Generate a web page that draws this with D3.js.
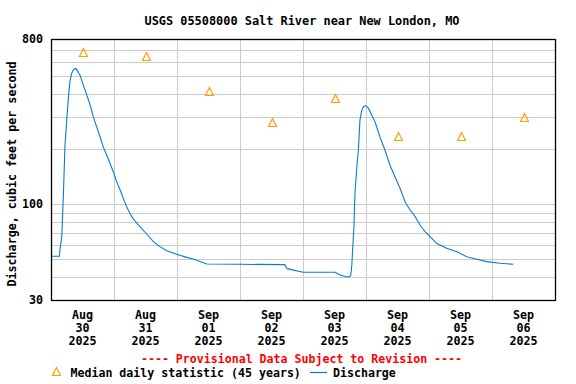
<!DOCTYPE html>
<html><head><meta charset="utf-8">
<script src="https://cdn.jsdelivr.net/npm/d3@7"></script>
<style>
html,body{margin:0;padding:0;background:#fff;}
text{font-family:"DejaVu Sans Mono",monospace;font-weight:bold;}
</style></head>
<body><svg id="c" width="576" height="384"></svg>
<script>
const title = "USGS 05508000 Salt River near New London, MO";
const yLabel = "Discharge, cubic feet per second";
const startDate = Date.UTC(2025, 7, 30);
// discharge: hours since Aug 30 00:00, cfs
const dischargeHours = [0, 3.2, 3.4, 4.1, 4.7, 5.3, 6.0, 6.6, 7.2, 7.9, 8.5, 9.5, 11.0, 12.3, 13.6, 14.9, 16.1, 17.4, 18.7, 19.9, 21.2, 22.5, 23.7, 25.0, 26.3, 27.5, 28.8, 30.1, 31.4, 33.9, 36.5, 39.0, 41.5, 44.1, 47.9, 51.7, 54.1, 59.4, 72, 89.1, 89.9, 96, 108.2, 110.1, 112.5, 113.8, 114.2, 114.6, 114.9, 115.4, 115.8, 116.5, 117.1, 117.7, 118.4, 119.0, 119.9, 120.9, 122.2, 123.4, 125.3, 127.2, 129.1, 131.0, 133.0, 134.9, 136.8, 138.7, 140.6, 142.5, 144.4, 146.9, 150.7, 154.6, 158.4, 162.2, 166.0, 171.0, 176.1];
const dischargeValues = [52, 52, 56.3, 66.5, 110, 206, 289, 379, 468, 520, 542, 553, 509, 448, 396, 349, 301, 265, 234, 206, 186, 167, 151, 133, 120, 108, 97, 89, 83, 75.4, 68.6, 62.5, 58.7, 55.8, 53.3, 51.3, 50.2, 47.2, 47.0, 46.8, 44.5, 42.5, 42.5, 41.1, 40.2, 40.2, 41.1, 46.6, 56.3, 75.4, 115, 160, 198, 289, 327, 341, 346, 335, 307, 283, 234, 198, 164, 142, 122, 103, 93, 85.6, 77.1, 70.8, 66.5, 61.2, 57.5, 55.1, 51.7, 50.1, 48.6, 47.6, 47.0];
// median daily statistic, plotted at noon of each day
const dayLabels = [["Aug","30","2025"],["Aug","31","2025"],["Sep","01","2025"],["Sep","02","2025"],["Sep","03","2025"],["Sep","04","2025"],["Sep","05","2025"],["Sep","06","2025"]];
const medianValues = [668, 636, 409, 277, 378, 232, 232, 295];
const yTickLabels = [800, 100, 30];
const yGridValues = [40, 50, 60, 70, 80, 90, 100, 200, 300, 400, 500, 600, 700];

const svg = d3.select("#c");
const L = 51, R = 555, T = 39, B = 300;
const H = 3600 * 1000;
const x = d3.scaleUtc().domain([new Date(startDate), new Date(startDate + 8 * 24 * H)]).range([L, R]);
const y = d3.scaleLog().domain([30, 800]).range([B, T]);

const grid = svg.append("g").attr("stroke", "#cccccc").attr("stroke-width", 1).attr("shape-rendering", "crispEdges");
yGridValues.forEach(v => grid.append("line").attr("x1", L).attr("x2", R).attr("y1", Math.round(y(v)) + 0.5).attr("y2", Math.round(y(v)) + 0.5));
const days = d3.utcDay.range(new Date(startDate), new Date(startDate + 8 * 24 * H + 1));
days.forEach(d => grid.append("line").attr("y1", T).attr("y2", B).attr("x1", Math.round(x(d)) + 0.5).attr("x2", Math.round(x(d)) + 0.5));

// discharge line
const pts = dischargeHours.map((h, i) => [new Date(startDate + h * H), dischargeValues[i]]);
svg.append("path").datum(pts)
  .attr("fill", "none").attr("stroke", "#0a7bd0").attr("stroke-width", 1.1)
  .attr("d", d3.line().x(d => x(d[0])).y(d => y(d[1])));

// median triangles (open, centred on value)
const tri = "M0,-4L4,4L-4,4Z";
svg.append("g").selectAll("path").data(medianValues).join("path")
  .attr("d", tri)
  .attr("transform", (v, i) => `translate(${Math.round(x(new Date(startDate + (i * 24 + 12) * H))) + 0.5},${Math.round(y(v)) - 0.5})`)
  .attr("fill", "none").attr("stroke", "#ffa000").attr("stroke-width", 1.2);

// frame
svg.append("rect").attr("x", L + 0.5).attr("y", T + 0.5).attr("width", R - L).attr("height", B - T)
  .attr("fill", "none").attr("stroke", "#000").attr("stroke-width", 1.3);

// title
svg.append("text").attr("x", 302).attr("y", 24.5).attr("text-anchor", "middle").attr("font-size", 11.9).text(title);

// y tick labels
yTickLabels.forEach(v => svg.append("text").attr("x", 43).attr("y", y(v) + 4).attr("text-anchor", "end").attr("font-size", 11.7).text(v));

// y label
svg.append("text").attr("transform", "translate(16,174) rotate(-90)").attr("text-anchor", "middle").attr("font-size", 11.7).text(yLabel);

// x labels
dayLabels.forEach((lab, i) => {
  const cx = x(new Date(startDate + (i * 24 + 12) * H));
  lab.forEach((s, j) => svg.append("text").attr("x", cx).attr("y", 319 + j * 13).attr("text-anchor", "middle").attr("font-size", 11.7).text(s));
});

// provisional note
svg.append("text").attr("x", 301.5).attr("y", 363).attr("text-anchor", "middle").attr("font-size", 11.6).attr("fill", "#ff0000").text("---- Provisional Data Subject to Revision ----");

// legend
svg.append("path").attr("d", tri).attr("transform", "translate(56.5,371.5)").attr("fill", "none").attr("stroke", "#ffa000").attr("stroke-width", 1.2);
svg.append("text").attr("x", 70.5).attr("y", 377).attr("font-size", 11.6).text("Median daily statistic (45 years)");
svg.append("line").attr("x1", 310).attr("x2", 327).attr("y1", 372.5).attr("y2", 372.5).attr("stroke", "#0a7bd0").attr("stroke-width", 1.2);
svg.append("text").attr("x", 333).attr("y", 377).attr("font-size", 11.6).text("Discharge");
</script></body></html>
